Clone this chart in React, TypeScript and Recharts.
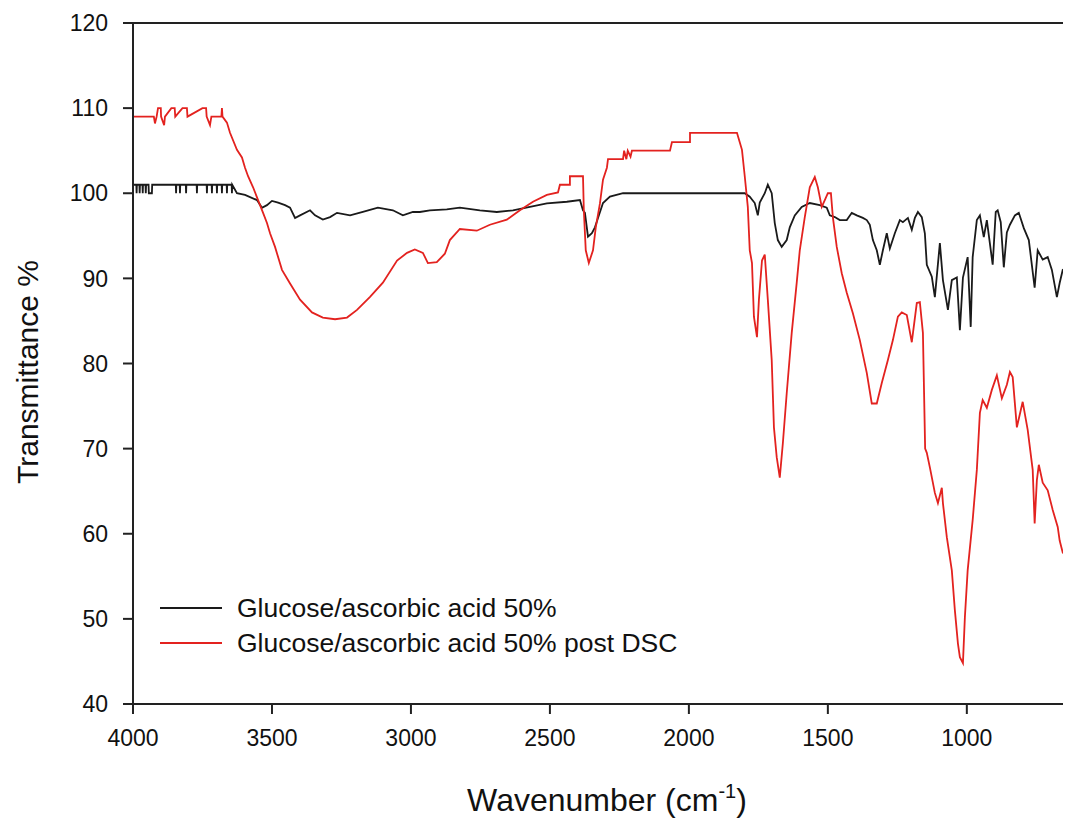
import React from 'react';
import { LineChart, Line, XAxis, YAxis, ReferenceLine, Label } from 'recharts';

// FTIR spectra, wavenumber (cm-1) vs transmittance (%)
const blackWn = [
  4000, 3988, 3987, 3986, 3977, 3976, 3975, 3966, 3965, 3964, 3955, 3954, 3953, 3944, 3943, 3932, 3931,
  3846, 3845, 3844, 3832, 3831, 3830, 3810, 3809, 3808, 3771, 3770, 3769, 3735, 3734, 3733, 3717, 3716,
  3715, 3699, 3698, 3697, 3681, 3680, 3679, 3663, 3662, 3661, 3645, 3644, 3643, 3626, 3597, 3554, 3536,
  3518, 3500, 3478, 3453, 3435, 3417, 3399, 3363, 3345, 3317, 3291, 3266, 3219, 3173, 3119, 3065, 3029,
  2993, 2968, 2932, 2871, 2824, 2752, 2691, 2633, 2572, 2511, 2439, 2392, 2381, 2374, 2363, 2349, 2338,
  2327, 2309, 2284, 2237, 1827, 1799, 1781, 1763, 1752, 1745, 1727, 1716, 1702, 1691, 1680, 1666, 1648,
  1637, 1619, 1594, 1565, 1529, 1504, 1493, 1475, 1457, 1432, 1414, 1396, 1374, 1360, 1349, 1338, 1324,
  1313, 1302, 1288, 1277, 1259, 1241, 1230, 1212, 1198, 1187, 1176, 1162, 1151, 1144, 1126, 1115, 1097,
  1086, 1068, 1054, 1036, 1025, 1014, 997, 986, 979, 964, 953, 939, 928, 907, 896, 889, 878, 867, 856,
  845, 827, 813, 795, 777, 756, 745, 727, 709, 694, 676, 666, 655, 640,
];
const blackT = [
  101, 101, 100, 101, 101, 100, 101, 101, 100, 101, 101, 100, 101, 101, 100, 100, 101,
  101, 100, 101, 101, 100, 101, 101, 100, 101, 101, 100, 101, 101, 100, 101, 101, 100,
  101, 101, 100, 101, 101, 100, 101, 101, 100, 101, 101, 100, 101, 100, 99.8, 99.2, 98.3,
  98.6, 99.1, 98.9, 98.6, 98.3, 97.1, 97.4, 98.0, 97.4, 96.9, 97.2, 97.7, 97.4, 97.8, 98.3, 98.0, 97.4,
  97.8, 97.8, 98.0, 98.1, 98.3, 98.0, 97.8, 98.0, 98.4, 98.8, 99.0, 99.2, 98.0, 97.7, 94.9, 95.3, 96.0,
  97.1, 98.85, 99.6, 100, 100, 100, 99.6, 98.85, 97.4, 98.9, 100, 101, 100, 96.5, 94.5, 93.7, 94.5,
  96.0, 97.4, 98.4, 98.85, 98.6, 98.3, 97.4, 97.2, 96.85, 96.85, 97.7, 97.4, 97.1, 96.85, 96.3, 94.5, 93.3,
  91.6, 93.3, 95.3, 93.5, 95.3, 96.85, 96.6, 97.1, 95.7, 97.1, 97.8, 97.2, 95.3, 91.6, 90.2, 87.8, 94.15,
  89.8, 86.3, 89.8, 90.1, 83.9, 90.1, 92.5, 84.3, 92.5, 96.85, 97.4, 94.85, 96.85, 91.6, 97.8, 98.0, 96.6, 91.3, 95.4,
  96.3, 97.4, 97.7, 95.9, 94.5, 88.9, 93.3, 92.2, 92.5, 91.0, 87.8, 89.45, 91.0, 91.2,
];

const redWn = [
  4000, 3925, 3921, 3915, 3910, 3900, 3899, 3888, 3885, 3862, 3850, 3848, 3822, 3806, 3804, 3750, 3737,
  3735, 3723, 3718, 3682, 3680, 3678, 3662, 3651, 3626, 3608, 3597, 3586, 3568, 3550, 3532, 3518, 3507,
  3489, 3464, 3435, 3399, 3356, 3317, 3273, 3230, 3194, 3148, 3101, 3050, 3014, 2986, 2957, 2939, 2907,
  2878, 2860, 2824, 2763, 2716, 2655, 2608, 2561, 2511, 2471, 2464, 2428, 2428, 2381, 2378, 2371, 2360,
  2345, 2335, 2320, 2309, 2295, 2291, 2237, 2233, 2225, 2220, 2210, 2205, 2068, 2061, 1996, 1996, 1827,
  1817, 1809, 1799, 1788, 1781, 1773, 1766, 1755, 1748, 1737, 1727, 1716, 1702, 1694, 1684, 1673, 1662,
  1648, 1630, 1612, 1601, 1583, 1565, 1547, 1536, 1522, 1511, 1500, 1489, 1482, 1468, 1450, 1432, 1410,
  1385, 1360, 1342, 1324, 1306, 1284, 1266, 1248, 1234, 1216, 1198, 1180, 1169, 1158, 1150, 1144, 1133,
  1115, 1104, 1090, 1086, 1072, 1054, 1043, 1032, 1025, 1014, 1007, 997, 979, 964, 953, 943, 928, 910,
  892, 874, 856, 845, 835, 820, 799, 781, 763, 756, 748, 741, 727, 709, 691, 673, 666, 655, 648,
];
const redT = [
  109, 109, 108.2, 109, 110, 110, 109, 108, 109, 110, 110, 109, 110, 110, 109, 110, 110,
  109, 108, 109, 109, 110, 109, 108.3, 107.1, 105.1, 104.2, 103, 102, 100.7, 99.2, 97.7, 96.5, 95.3,
  93.7, 91, 89.4, 87.5, 86, 85.4, 85.2, 85.4, 86.3, 87.8, 89.5, 92.1, 93.0, 93.4, 93, 91.8, 91.9,
  92.9, 94.5, 95.8, 95.6, 96.3, 96.9, 98, 99, 99.8, 100.1, 101, 101, 102, 102, 98, 93.3, 91.8,
  93.3, 96, 98.8, 101.6, 103, 104, 104, 105, 104, 105, 104.3, 105, 105, 106, 106, 107.1, 107.1,
  106, 105.1, 102, 98.4, 93.3, 91.8, 85.5, 83.1, 87.5, 92.1, 92.8, 87.5, 80.4, 72.5, 69.0, 66.6, 70.6,
  76.5, 83.6, 89.5, 93.3, 97.2, 100.7, 101.9, 100.7, 98.4, 99.2, 100, 100, 97.2, 93.7, 90.6, 88.3, 85.9,
  82.75, 78.9, 75.3, 75.3, 77.7, 80.4, 82.75, 85.5, 86.0, 85.7, 82.5, 87.1, 87.2, 83.6, 70, 69.5, 67.8,
  64.8, 63.6, 65.4, 63.6, 59.6, 55.7, 51, 47.1, 45.5, 44.8, 50.2, 55.7, 61.6, 67.5, 74.2, 75.7, 74.8, 76.9,
  78.6, 75.9, 77.5, 79.0, 78.4, 72.5, 75.5, 72.2, 67.5, 61.2, 66.3, 68.1, 66, 65.1, 62.8, 60.8, 59.2, 57.8, 57.6,
];

const seriesNames = ['Glucose/ascorbic acid 50%', 'Glucose/ascorbic acid 50% post DSC'];
const seriesColors = ['#1a1a1a', '#e3221f'];
const xTicks = [4000, 3500, 3000, 2500, 2000, 1500, 1000];
const yTicks = [40, 50, 60, 70, 80, 90, 100, 110, 120];

const blackData = blackWn.map((wn, i) => ({ wn, t: blackT[i] }));
const redData = redWn.map((wn, i) => ({ wn, t: redT[i] }));

const FONT = '"Liberation Sans", Arial, Helvetica, sans-serif';
const AXIS = '#222';

export default function App() {
  return (
    <div style={{ position: 'relative', width: 1063, height: 810, fontFamily: FONT }}>
      <LineChart width={1063} height={810} margin={{ top: 15, right: 3, left: 0, bottom: 0 }}>
        <XAxis
          type="number"
          dataKey="wn"
          domain={[636, 4000]}
          reversed
          allowDataOverflow
          ticks={xTicks}
          interval={0}
          height={114}
          tickSize={10}
          tickMargin={16}
          axisLine={{ stroke: AXIS, strokeWidth: 2 }}
          tickLine={{ stroke: AXIS, strokeWidth: 2 }}
          tick={{ fill: '#111', fontSize: 23, fontFamily: FONT }}
        >
          <Label
            content={() => (
              <text x={599} y={803} textAnchor="middle" fill="#111" fontSize={32} fontFamily={FONT}>
                Wavenumber (cm
                <tspan dy={-13} fontSize={20}>-1</tspan>
                <tspan dy={13}>)</tspan>
              </text>
            )}
          />
        </XAxis>
        <YAxis
          type="number"
          domain={[40, 120]}
          ticks={yTicks}
          interval={0}
          width={125}
          tickSize={10}
          tickMargin={15}
          axisLine={{ stroke: AXIS, strokeWidth: 2 }}
          tickLine={{ stroke: AXIS, strokeWidth: 2 }}
          tick={{ fill: '#111', fontSize: 23, fontFamily: FONT }}
        >
          <Label
            content={() => (
              <text
                x={19}
                y={364}
                transform="rotate(-90 19 364)"
                textAnchor="middle"
                dominantBaseline="central"
                fill="#111"
                fontSize={30}
                fontFamily={FONT}
              >
                Transmittance %
              </text>
            )}
          />
        </YAxis>
        <ReferenceLine y={120} stroke={AXIS} strokeWidth={2} />
        <Line
          data={blackData}
          dataKey="t"
          name={seriesNames[0]}
          type="linear"
          stroke={seriesColors[0]}
          strokeWidth={1.8}
          dot={false}
          isAnimationActive={false}
        />
        <Line
          data={redData}
          dataKey="t"
          name={seriesNames[1]}
          type="linear"
          stroke={seriesColors[1]}
          strokeWidth={1.8}
          dot={false}
          isAnimationActive={false}
        />
      </LineChart>
      <svg
        width={580}
        height={80}
        style={{ position: 'absolute', left: 150, top: 560, overflow: 'visible' }}
      >
        {seriesNames.map((name, i) => (
          <g key={name}>
            <line x1={2} x2={64} y1={40 + i * 35} y2={40 + i * 35} stroke={seriesColors[i]} strokeWidth={1.8} />
            <text x={79} y={40 + i * 35} dominantBaseline="central" fontSize={26.5} fill="#111" fontFamily={FONT}>
              {name}
            </text>
          </g>
        ))}
      </svg>
    </div>
  );
}
